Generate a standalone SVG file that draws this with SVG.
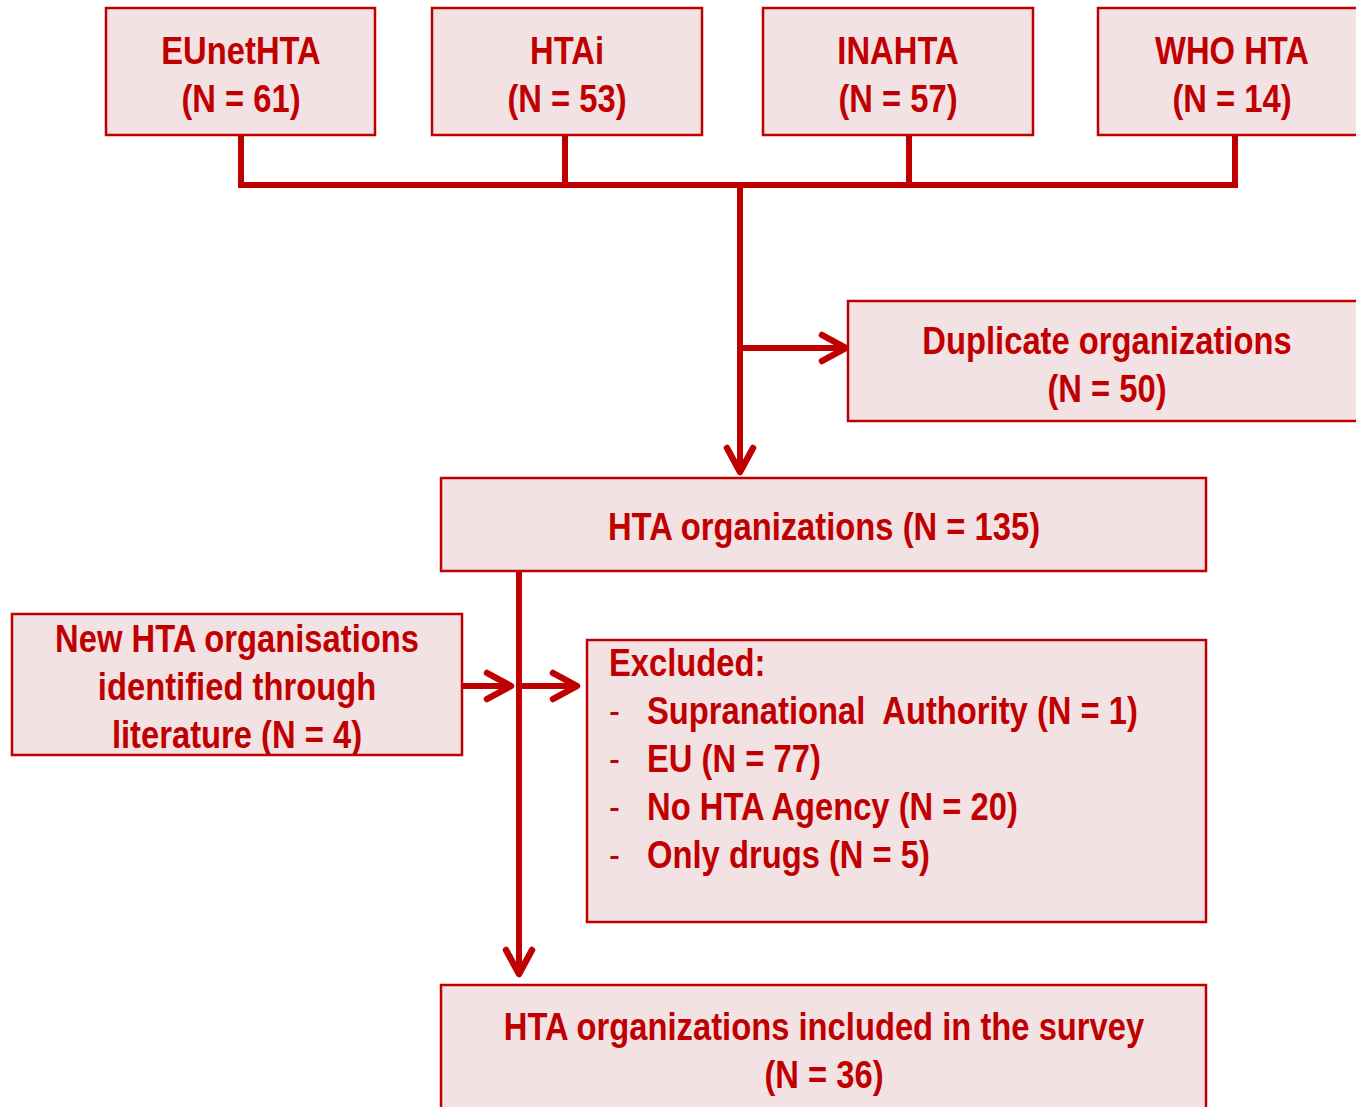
<svg xmlns="http://www.w3.org/2000/svg" width="1356" height="1107" viewBox="0 0 1356 1107">
<style>
.box{fill:#F3E2E3;stroke:#C00000;stroke-width:2.5}
.t{font-family:"Liberation Sans",Arial,sans-serif;font-weight:bold;font-size:39px;fill:#C00000;text-anchor:middle}
.l{text-anchor:start}
.d{font-weight:normal}
.c{fill:none;stroke:#C00000;stroke-width:6}
</style>
<defs>
<marker id="ah" markerUnits="userSpaceOnUse" markerWidth="40" markerHeight="40" viewBox="-30 -20 40 40" refX="0" refY="0" orient="auto" overflow="visible">
<path d="M-24,-13 L0,0 L-24,13" fill="none" stroke="#C00000" stroke-width="6.5" stroke-linecap="round" stroke-linejoin="round"/>
</marker>
</defs>
<rect width="1356" height="1107" fill="#fff"/>
<g id="connectors">
<path class="c" d="M241,135 V185 M565,135 V185 M909,135 V185 M1235,135 V185 M238,185 H1238"/>
<path class="c" d="M740,185 V472" marker-end="url(#ah)"/>
<path class="c" d="M740,348 H846" marker-end="url(#ah)"/>
<path class="c" d="M519,571 V974" marker-end="url(#ah)"/>
<path class="c" d="M462,686 H511" marker-end="url(#ah)"/>
<path class="c" d="M519,686 H577" marker-end="url(#ah)"/>
</g>
<g id="n-eunethta"><rect class="box" x="106" y="8" width="269" height="127"/><text class="t" transform="translate(241 64) scale(0.84 1)">EUnetHTA</text><text class="t" transform="translate(241 112) scale(0.84 1)">(N = 61)</text></g>
<g id="n-htai"><rect class="box" x="432" y="8" width="270" height="127"/><text class="t" transform="translate(567 64) scale(0.84 1)">HTAi</text><text class="t" transform="translate(567 112) scale(0.84 1)">(N = 53)</text></g>
<g id="n-inahta"><rect class="box" x="763" y="8" width="270" height="127"/><text class="t" transform="translate(898 64) scale(0.84 1)">INAHTA</text><text class="t" transform="translate(898 112) scale(0.84 1)">(N = 57)</text></g>
<g id="n-who"><rect class="box" x="1098" y="8" width="270" height="127"/><text class="t" transform="translate(1232 64) scale(0.84 1)">WHO HTA</text><text class="t" transform="translate(1232 112) scale(0.84 1)">(N = 14)</text></g>
<g id="n-dup"><rect class="box" x="848" y="301" width="520" height="120"/><text class="t" transform="translate(1107 354) scale(0.84 1)">Duplicate organizations</text><text class="t" transform="translate(1107 402) scale(0.84 1)">(N = 50)</text></g>
<g id="n-hta"><rect class="box" x="441" y="478" width="765" height="93"/><text class="t" transform="translate(824 540) scale(0.84 1)">HTA organizations (N = 135)</text></g>
<g id="n-new"><rect class="box" x="12" y="614" width="450" height="141"/><text class="t" transform="translate(237 652) scale(0.84 1)">New HTA organisations</text><text class="t" transform="translate(237 700) scale(0.84 1)">identified through</text><text class="t" transform="translate(237 748) scale(0.84 1)">literature (N = 4)</text></g>
<g id="n-excl"><rect class="box" x="587" y="640" width="619" height="282"/>
<text class="t l" transform="translate(609 676) scale(0.84 1)">Excluded:</text>
<text class="t l d" transform="translate(609 724) scale(0.84 1)">-</text><text class="t l" style="white-space:pre" transform="translate(647 724) scale(0.84 1)">Supranational  Authority (N = 1)</text>
<text class="t l d" transform="translate(609 772) scale(0.84 1)">-</text><text class="t l" transform="translate(647 772) scale(0.84 1)">EU (N = 77)</text>
<text class="t l d" transform="translate(609 820) scale(0.84 1)">-</text><text class="t l" transform="translate(647 820) scale(0.84 1)">No HTA Agency (N = 20)</text>
<text class="t l d" transform="translate(609 868) scale(0.84 1)">-</text><text class="t l" transform="translate(647 868) scale(0.84 1)">Only drugs (N = 5)</text>
</g>
<g id="n-final"><rect class="box" x="441" y="985" width="765" height="140"/><text class="t" transform="translate(824 1040) scale(0.84 1)">HTA organizations included in the survey</text><text class="t" transform="translate(824 1088) scale(0.84 1)">(N = 36)</text></g>
</svg>
